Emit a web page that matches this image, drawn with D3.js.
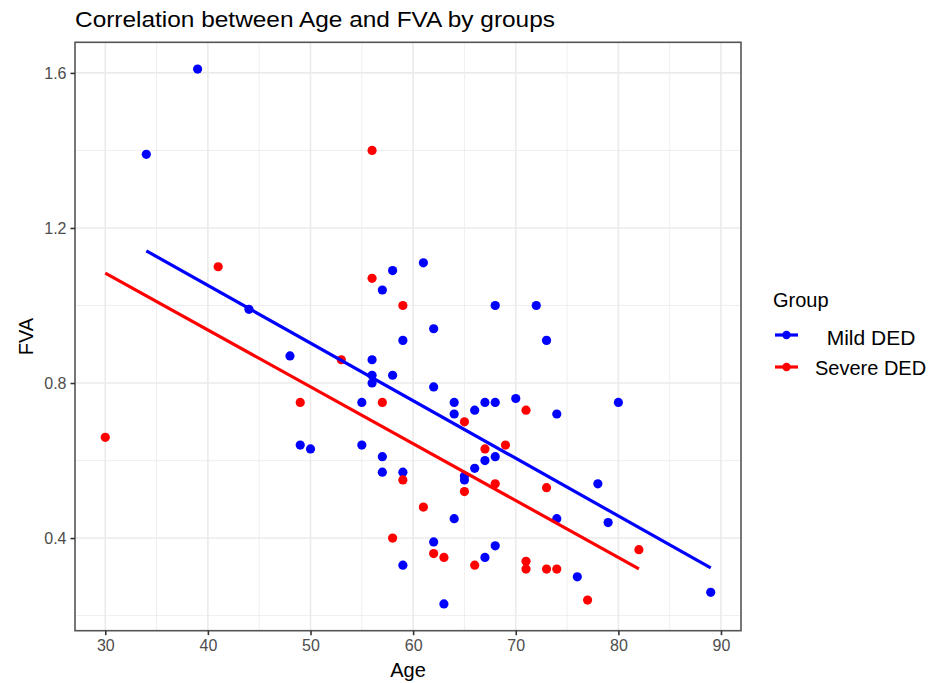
<!DOCTYPE html>
<html>
<head>
<meta charset="utf-8">
<script src="https://cdn.jsdelivr.net/npm/d3@7"></script>
<style>
  body { margin: 0; background: #fff; }
  svg { font-family: "Liberation Sans", Arial, sans-serif; }
  .tick text { fill: #4d4d4d; font-size: 16px; }
</style>
</head>
<body>
<svg id="chart" width="935" height="683"></svg>
<script>
// group names as drawn in the legend
var groups = ["Mild DED", "Severe DED"];
var groupLabels = ["  Mild DED", "Severe DED"];
var groupColors = ["#0000ff", "#ff0000"];

// Mild DED points (age, FVA)
var mildAge = [34, 39, 44, 48, 49, 50, 55, 55, 56, 56, 56, 57, 57, 57, 58, 58, 59, 59, 59,
  61, 62, 62, 62, 63, 64, 64, 64, 65, 65, 66, 66, 67, 67, 67, 68, 68, 68, 68,
  70, 72, 73, 74, 74, 76, 78, 79, 80, 89];
var mildFva = [1.39, 1.61, 0.99, 0.87, 0.64, 0.63, 0.75, 0.64, 0.86, 0.82, 0.80, 1.04, 0.61, 0.57, 1.09, 0.82, 0.91, 0.57, 0.33,
  1.11, 0.94, 0.79, 0.39, 0.23, 0.75, 0.72, 0.45, 0.56, 0.55, 0.58, 0.73, 0.75, 0.60, 0.35, 1.00, 0.75, 0.61, 0.38,
  0.76, 1.00, 0.91, 0.72, 0.45, 0.30, 0.54, 0.44, 0.75, 0.26];

// Severe DED points (age, FVA)
var severeAge = [30, 41, 49, 53, 56, 56, 57, 58, 59, 59, 61, 62, 63, 65, 65, 66, 67, 68, 69,
  71, 71, 71, 73, 73, 74, 77, 82];
var severeFva = [0.66, 1.10, 0.75, 0.86, 1.40, 1.07, 0.75, 0.40, 1.00, 0.55, 0.48, 0.36, 0.35, 0.70, 0.52, 0.33, 0.63, 0.54, 0.64,
  0.73, 0.34, 0.32, 0.53, 0.32, 0.32, 0.24, 0.37];

var xTicks = [30, 40, 50, 60, 70, 80, 90];
var yTicks = [0.4, 0.8, 1.2, 1.6];
var xMinor = [35, 45, 55, 65, 75, 85];
var yMinor = [0.2, 0.6, 1.0, 1.4];

var svg = d3.select("#chart");
var mLeft = 75, mTop = 42.3, width = 666, height = 588.4;

var series = [
  { name: groups[0], label: groupLabels[0], color: groupColors[0], x: mildAge, y: mildFva },
  { name: groups[1], label: groupLabels[1], color: groupColors[1], x: severeAge, y: severeFva }
];

var allX = mildAge.concat(severeAge);
var allY = mildFva.concat(severeFva);

// ggplot style 5% expansion
function expand(ext) {
  var pad = (ext[1] - ext[0]) * 0.05;
  return [ext[0] - pad, ext[1] + pad];
}

var x = d3.scaleLinear().domain(expand(d3.extent(allX))).range([mLeft, mLeft + width]);
var y = d3.scaleLinear().domain(expand(d3.extent(allY))).range([mTop + height, mTop]);

// least squares fit for each group
function fit(xs, ys) {
  var mx = d3.mean(xs), my = d3.mean(ys);
  var sxy = 0, sxx = 0;
  for (var i = 0; i < xs.length; i++) {
    sxy += (xs[i] - mx) * (ys[i] - my);
    sxx += (xs[i] - mx) * (xs[i] - mx);
  }
  var b = sxy / sxx;
  return { a: my - b * mx, b: b };
}

// grid
var grid = svg.append("g");
grid.selectAll(".xminor").data(xMinor).enter().append("line")
  .attr("x1", function(d) { return x(d); }).attr("x2", function(d) { return x(d); })
  .attr("y1", mTop).attr("y2", mTop + height)
  .attr("stroke", "#ebebeb").attr("stroke-width", 0.8);
grid.selectAll(".yminor").data(yMinor).enter().append("line")
  .attr("y1", function(d) { return y(d); }).attr("y2", function(d) { return y(d); })
  .attr("x1", mLeft).attr("x2", mLeft + width)
  .attr("stroke", "#ebebeb").attr("stroke-width", 0.8);
grid.selectAll(".xmajor").data(xTicks).enter().append("line")
  .attr("x1", function(d) { return x(d); }).attr("x2", function(d) { return x(d); })
  .attr("y1", mTop).attr("y2", mTop + height)
  .attr("stroke", "#ebebeb").attr("stroke-width", 1.6);
grid.selectAll(".ymajor").data(yTicks).enter().append("line")
  .attr("y1", function(d) { return y(d); }).attr("y2", function(d) { return y(d); })
  .attr("x1", mLeft).attr("x2", mLeft + width)
  .attr("stroke", "#ebebeb").attr("stroke-width", 1.6);

// points
series.forEach(function(s) {
  svg.append("g").selectAll("circle").data(s.x).enter().append("circle")
    .attr("cx", function(d) { return x(d); })
    .attr("cy", function(d, i) { return y(s.y[i]); })
    .attr("r", 4.6)
    .attr("fill", s.color);
});

// regression lines
series.forEach(function(s) {
  var f = fit(s.x, s.y);
  var ext = d3.extent(s.x);
  svg.append("line")
    .attr("x1", x(ext[0])).attr("y1", y(f.a + f.b * ext[0]))
    .attr("x2", x(ext[1])).attr("y2", y(f.a + f.b * ext[1]))
    .attr("stroke", s.color).attr("stroke-width", 3.2);
});

// panel border
svg.append("rect")
  .attr("x", mLeft).attr("y", mTop).attr("width", width).attr("height", height)
  .attr("fill", "none").attr("stroke", "#555").attr("stroke-width", 1.6);

// axes
var xAxis = d3.axisBottom(x).tickValues(xTicks).tickSize(4.5).tickPadding(4).tickFormat(d3.format("d"));
var gx = svg.append("g").attr("transform", "translate(0," + (mTop + height) + ")").call(xAxis);
gx.select(".domain").remove();
gx.selectAll(".tick line").attr("stroke", "#333").attr("stroke-width", 1.6);

var yAxis = d3.axisLeft(y).tickValues(yTicks).tickSize(4.5).tickPadding(4).tickFormat(d3.format(".1f"));
var gy = svg.append("g").attr("transform", "translate(" + mLeft + ",0)").call(yAxis);
gy.select(".domain").remove();
gy.selectAll(".tick line").attr("stroke", "#333").attr("stroke-width", 1.6);

// titles
svg.append("text").attr("x", mLeft).attr("y", 27)
  .attr("font-size", 22).attr("fill", "#000")
  .attr("textLength", 480).attr("lengthAdjust", "spacingAndGlyphs")
  .text("Correlation between Age and FVA by groups");
svg.append("text").attr("x", mLeft + width / 2).attr("y", 677)
  .attr("text-anchor", "middle").attr("font-size", 20).attr("fill", "#000")
  .text("Age");
svg.append("text")
  .attr("transform", "translate(33," + (mTop + height / 2) + ") rotate(-90)")
  .attr("text-anchor", "middle").attr("font-size", 20).attr("fill", "#000")
  .text("FVA");

// legend
var legend = svg.append("g").attr("transform", "translate(773,0)");
legend.append("text").attr("x", 0).attr("y", 306.5)
  .attr("font-size", 20).attr("fill", "#000").text("Group");
var keyY = [335, 367];
series.forEach(function(s, i) {
  legend.append("line")
    .attr("x1", 2).attr("x2", 25).attr("y1", keyY[i]).attr("y2", keyY[i])
    .attr("stroke", s.color).attr("stroke-width", 3.2);
  legend.append("circle").attr("cx", 13.5).attr("cy", keyY[i]).attr("r", 4.2).attr("fill", s.color);
  legend.append("text").attr("x", 42).attr("y", keyY[i] + 7.5 + (i === 0 ? 2 : 0))
    .attr("font-size", i === 0 ? 21 : 20).attr("fill", "#000")
    .style("white-space", "pre")
    .text(s.label);
});
</script>
</body>
</html>
